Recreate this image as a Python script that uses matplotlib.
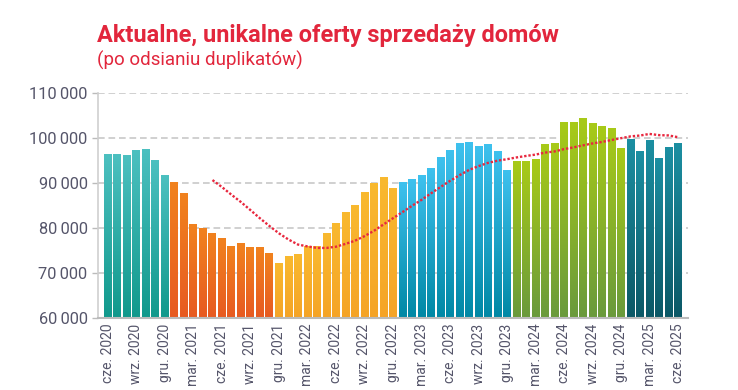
import numpy as np
import matplotlib
matplotlib.use("Agg")
import matplotlib.pyplot as plt
from matplotlib.colors import LinearSegmentedColormap

# monthly offers, cze 2020 .. cze 2025
values = [96400, 96400, 96160, 97270, 97490, 94890, 91710,
          90150, 87710, 80820, 80000, 78820, 77710, 76000, 76600, 75710, 75710, 74380,
          72160, 73710, 74160, 75930, 75900, 78820, 81050, 83490, 85050, 87940, 89940, 91270, 88820,
          90160, 90830, 91710, 93270, 95710, 97270, 98830, 99050, 98160, 98600, 97050, 92830,
          94830, 94830, 95270, 98600, 98830, 103490, 103490, 104380, 103270, 102600, 102160, 97710,
          99710, 97050, 99490, 95490, 97940, 98830]

# colour group of each bar (bars per group)
group_sizes = [7, 11, 13, 12, 12, 6]
group_colors = [("#4CC0C0", "#11998C"),
                ("#F1821E", "#E75A22"),
                ("#F9B92F", "#F5A427"),
                ("#3EC1EE", "#0088A5"),
                ("#A8CA18", "#6A9A3C"),
                ("#1C8FA2", "#0B5866")]

# dotted trend line (starts at maj 2021)
trend_start = 11
trend = [90650, 89090, 87390, 85760, 83970, 82150, 80440, 78810, 77440, 76320,
         75910, 75570, 75570, 75840, 76470, 77170, 78190, 79380, 80790, 82170,
         83540, 84930, 86250, 87700, 89100, 90460, 91730, 92900, 93750, 94470,
         94960, 95290, 95680, 96010, 96310, 96750, 97010, 97530, 97920, 98360,
         98790, 99120, 99550, 99960, 100360, 100550, 100900, 100640, 100570, 100180]

months = ["cze.", "wrz.", "gru.", "mar."]
tick_labels = []
year = 2020
for k in range(21):
    m = months[k % 4]
    if m == "mar.":
        year += 1
    tick_labels.append(f"{m} {year}")

plt.rcParams["font.family"] = ["Roboto", "DejaVu Sans"]

fig = plt.figure(figsize=(7.38, 3.90), dpi=100)
ax = fig.add_axes([98 / 738, 1 - 318 / 390, 590 / 738, 225 / 390])

x = np.arange(len(values))
bars = ax.bar(x, values, width=0.84, color="none", zorder=2)

ymin = 60000
grad = np.linspace(0, 1, 100).reshape(-1, 1)
i = 0
for (top_c, bot_c), n in zip(group_colors, group_sizes):
    cmap = LinearSegmentedColormap.from_list("g", [bot_c, top_c])
    for b in bars[i:i + n]:
        x0 = b.get_x()
        ax.imshow(grad, extent=[x0, x0 + b.get_width(), ymin, b.get_height()],
                  origin="lower", aspect="auto", cmap=cmap, zorder=2)
    i += n

tx = np.arange(trend_start, trend_start + len(trend))
ax.plot(tx, trend, color="#E8283F", lw=1.7, linestyle=(0, (1, 0.8)), zorder=4)

ax.set_xlim(-1.05, 61.05)
ax.set_ylim(60000, 110000)
ax.set_yticks(range(60000, 110001, 10000))
ax.set_yticklabels([f"{v // 1000}\u2009000" for v in range(60000, 110001, 10000)],
                   fontsize=11.8, color="#55556A")
ax.set_xticks(np.arange(0, 61, 3))
ax.set_xticklabels(tick_labels, rotation=90, fontsize=10, color="#55556A")
ax.tick_params(axis="x", length=0, pad=4)
ax.tick_params(axis="y", length=4.5, color="#BBBBBB", width=1, pad=3)

ax.yaxis.grid(True, color="#C8C8C8", lw=1.2, linestyle=(0, (4, 2.3)), zorder=0)
ax.set_axisbelow(True)
for s in ["top", "right"]:
    ax.spines[s].set_visible(False)
ax.spines["left"].set_color("#CFCFCF")
ax.spines["left"].set_linewidth(1.2)
ax.spines["bottom"].set_color("#BBBBBB")
ax.spines["bottom"].set_linewidth(1.5)

fig.text(97 / 738, 1 - 42 / 390, "Aktualne, unikalne oferty sprzedaży domów",
         fontsize=16.9, fontweight="bold", color="#E2263C",
         family=["Liberation Sans Narrow", "Roboto"])
fig.text(97 / 738, 1 - 66 / 390, "(po odsianiu duplikatów)",
         fontsize=13.5, color="#E2263C", family=["Liberation Sans Narrow", "Roboto"])

fig.savefig("out.png", dpi=100)
